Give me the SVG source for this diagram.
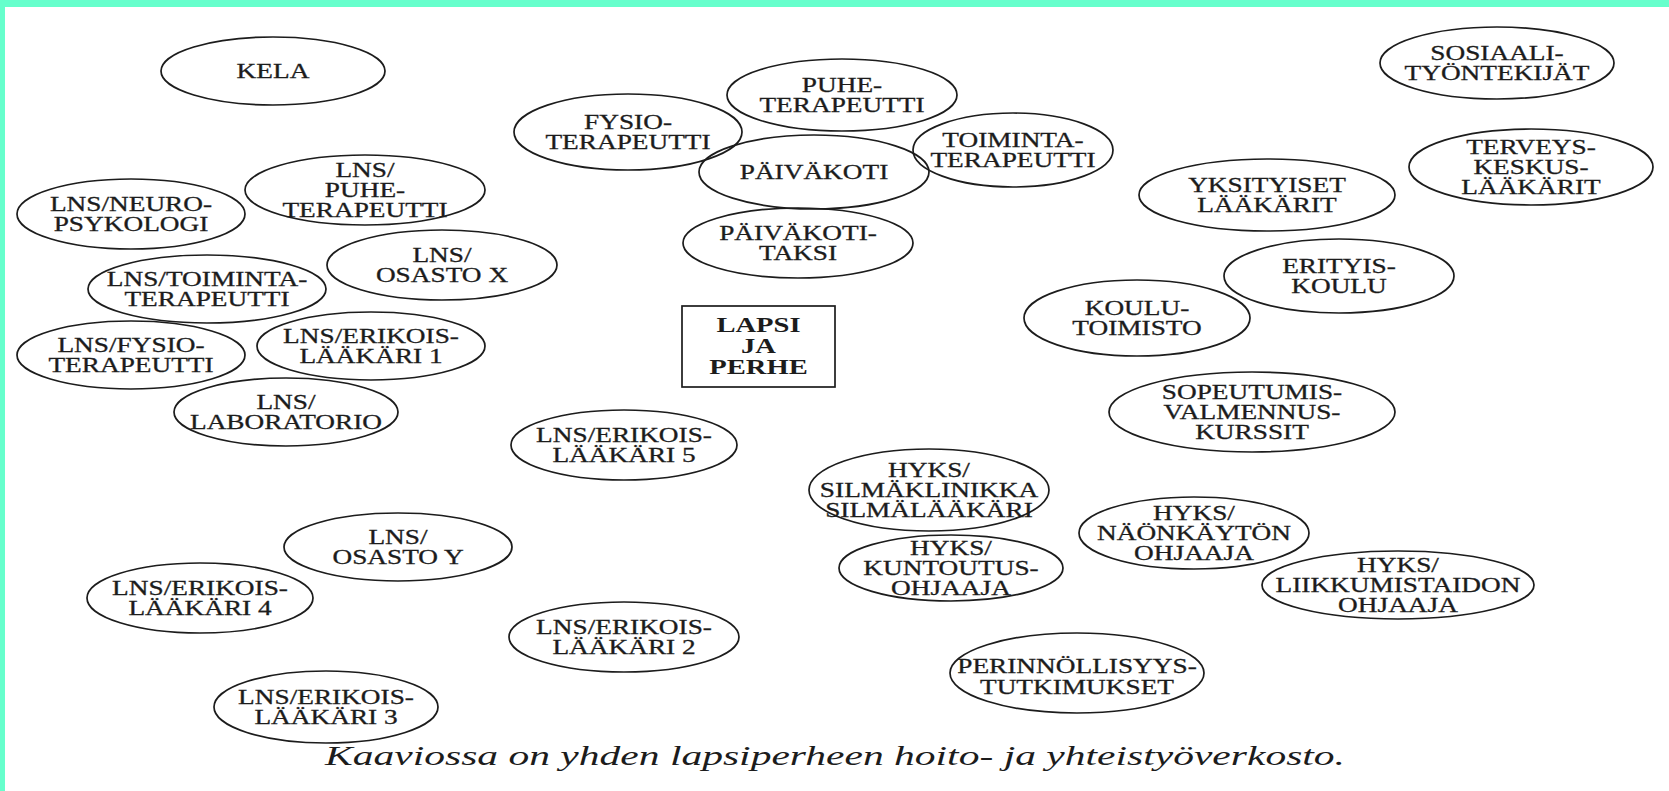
<svg xmlns="http://www.w3.org/2000/svg" width="1669" height="791" viewBox="0 0 1669 791">
<style>
.n ellipse{fill:none;stroke:#1c1c1c;stroke-width:1.7}
.n text{font-family:"Liberation Serif","Times New Roman",serif;font-size:21px;fill:#1c1c1c;stroke:#1c1c1c;stroke-width:0.3;text-anchor:middle}
.box rect{fill:none;stroke:#1c1c1c;stroke-width:1.7}
.box text{font-family:"Liberation Serif","Times New Roman",serif;font-size:22px;font-weight:bold;fill:#1c1c1c;text-anchor:middle}
.cap{font-family:"Liberation Serif","Times New Roman",serif;font-size:27px;font-style:italic;fill:#1c1c1c;text-anchor:middle}
</style>
<rect x="0" y="0" width="1669" height="791" fill="#ffffff"/>
<rect x="0" y="0" width="1669" height="7" fill="#66FFCC"/>
<rect x="0" y="0" width="5" height="791" fill="#66FFCC"/>

<g id="kela" class="n" transform="translate(273,71)"><ellipse rx="112" ry="34"/><text transform="scale(1.3,1)"><tspan x="0" y="7">KELA</tspan></text></g>
<g id="fysioterapeutti" class="n" transform="translate(628,132)"><ellipse rx="114" ry="38"/><text transform="scale(1.3,1)"><tspan x="0" y="-3">FYSIO-</tspan><tspan x="0" y="17">TERAPEUTTI</tspan></text></g>
<g id="puheterapeutti" class="n" transform="translate(842,95)"><ellipse rx="115" ry="36"/><text transform="scale(1.3,1)"><tspan x="0" y="-3">PUHE-</tspan><tspan x="0" y="17">TERAPEUTTI</tspan></text></g>
<g id="paivakoti" class="n" transform="translate(814,172)"><ellipse rx="115" ry="37"/><text transform="scale(1.3,1)"><tspan x="0" y="7">PÄIVÄKOTI</tspan></text></g>
<g id="toimintaterapeutti" class="n" transform="translate(1013,150)"><ellipse rx="100" ry="37"/><text transform="scale(1.3,1)"><tspan x="0" y="-3">TOIMINTA-</tspan><tspan x="0" y="17">TERAPEUTTI</tspan></text></g>
<g id="paivakotitaksi" class="n" transform="translate(798,243)"><ellipse rx="115" ry="35"/><text transform="scale(1.3,1)"><tspan x="0" y="-3">PÄIVÄKOTI-</tspan><tspan x="0" y="17">TAKSI</tspan></text></g>
<g id="sosiaalityontekijat" class="n" transform="translate(1497,63)"><ellipse rx="117" ry="36"/><text transform="scale(1.3,1)"><tspan x="0" y="-3">SOSIAALI-</tspan><tspan x="0" y="17">TYÖNTEKIJÄT</tspan></text></g>
<g id="terveyskeskuslaakarit" class="n" transform="translate(1531,167)"><ellipse rx="122" ry="38"/><text transform="scale(1.3,1)"><tspan x="0" y="-13">TERVEYS-</tspan><tspan x="0" y="7">KESKUS-</tspan><tspan x="0" y="27">LÄÄKÄRIT</tspan></text></g>
<g id="yksityisetlaakarit" class="n" transform="translate(1267,195)"><ellipse rx="128" ry="36"/><text transform="scale(1.3,1)"><tspan x="0" y="-3">YKSITYISET</tspan><tspan x="0" y="17">LÄÄKÄRIT</tspan></text></g>
<g id="erityiskoulu" class="n" transform="translate(1339,276)"><ellipse rx="115" ry="37"/><text transform="scale(1.3,1)"><tspan x="0" y="-3">ERITYIS-</tspan><tspan x="0" y="17">KOULU</tspan></text></g>
<g id="koulutoimisto" class="n" transform="translate(1137,318)"><ellipse rx="113" ry="38"/><text transform="scale(1.3,1)"><tspan x="0" y="-3">KOULU-</tspan><tspan x="0" y="17">TOIMISTO</tspan></text></g>
<g id="sopeutumisvalmennuskurssit" class="n" transform="translate(1252,412)"><ellipse rx="143" ry="40"/><text transform="scale(1.3,1)"><tspan x="0" y="-13">SOPEUTUMIS-</tspan><tspan x="0" y="7">VALMENNUS-</tspan><tspan x="0" y="27">KURSSIT</tspan></text></g>

<g id="lapsijaperhe" class="box"><rect x="682" y="306" width="153" height="81"/><text transform="translate(758.5,0) scale(1.3,1)"><tspan x="0" y="332">LAPSI</tspan><tspan x="0" y="353">JA</tspan><tspan x="0" y="374">PERHE</tspan></text></g>

<g id="lns-puheterapeutti" class="n" transform="translate(365,190)"><ellipse rx="120" ry="35"/><text transform="scale(1.3,1)"><tspan x="0" y="-13">LNS/</tspan><tspan x="0" y="7">PUHE-</tspan><tspan x="0" y="27">TERAPEUTTI</tspan></text></g>
<g id="lns-neuropsykologi" class="n" transform="translate(131,214)"><ellipse rx="114" ry="35"/><text transform="scale(1.3,1)"><tspan x="0" y="-3">LNS/NEURO-</tspan><tspan x="0" y="17">PSYKOLOGI</tspan></text></g>
<g id="lns-osastox" class="n" transform="translate(442,265)"><ellipse rx="115" ry="35"/><text transform="scale(1.3,1)"><tspan x="0" y="-3">LNS/</tspan><tspan x="0" y="17">OSASTO X</tspan></text></g>
<g id="lns-toimintaterapeutti" class="n" transform="translate(207,289)"><ellipse rx="119" ry="34"/><text transform="scale(1.3,1)"><tspan x="0" y="-3">LNS/TOIMINTA-</tspan><tspan x="0" y="17">TERAPEUTTI</tspan></text></g>
<g id="lns-fysioterapeutti" class="n" transform="translate(131,355)"><ellipse rx="114" ry="34"/><text transform="scale(1.3,1)"><tspan x="0" y="-3">LNS/FYSIO-</tspan><tspan x="0" y="17">TERAPEUTTI</tspan></text></g>
<g id="lns-erikoislaakari1" class="n" transform="translate(371,346)"><ellipse rx="114" ry="34"/><text transform="scale(1.3,1)"><tspan x="0" y="-3">LNS/ERIKOIS-</tspan><tspan x="0" y="17">LÄÄKÄRI 1</tspan></text></g>
<g id="lns-laboratorio" class="n" transform="translate(286,412)"><ellipse rx="112" ry="34"/><text transform="scale(1.3,1)"><tspan x="0" y="-3">LNS/</tspan><tspan x="0" y="17">LABORATORIO</tspan></text></g>
<g id="lns-erikoislaakari5" class="n" transform="translate(624,445)"><ellipse rx="113" ry="35"/><text transform="scale(1.3,1)"><tspan x="0" y="-3">LNS/ERIKOIS-</tspan><tspan x="0" y="17">LÄÄKÄRI 5</tspan></text></g>
<g id="lns-osastoy" class="n" transform="translate(398,547)"><ellipse rx="114" ry="34"/><text transform="scale(1.3,1)"><tspan x="0" y="-3">LNS/</tspan><tspan x="0" y="17">OSASTO Y</tspan></text></g>
<g id="lns-erikoislaakari4" class="n" transform="translate(200,598)"><ellipse rx="113" ry="35"/><text transform="scale(1.3,1)"><tspan x="0" y="-3">LNS/ERIKOIS-</tspan><tspan x="0" y="17">LÄÄKÄRI 4</tspan></text></g>
<g id="lns-erikoislaakari3" class="n" transform="translate(326,707)"><ellipse rx="112" ry="36"/><text transform="scale(1.3,1)"><tspan x="0" y="-3">LNS/ERIKOIS-</tspan><tspan x="0" y="17">LÄÄKÄRI 3</tspan></text></g>
<g id="lns-erikoislaakari2" class="n" transform="translate(624,637)"><ellipse rx="115" ry="35"/><text transform="scale(1.3,1)"><tspan x="0" y="-3">LNS/ERIKOIS-</tspan><tspan x="0" y="17">LÄÄKÄRI 2</tspan></text></g>

<g id="hyks-silmaklinikka" class="n" transform="translate(929,490)"><ellipse rx="120" ry="41"/><text transform="scale(1.3,1)"><tspan x="0" y="-13">HYKS/</tspan><tspan x="0" y="7">SILMÄKLINIKKA</tspan><tspan x="0" y="27">SILMÄLÄÄKÄRI</tspan></text></g>
<g id="hyks-kuntoutusohjaaja" class="n" transform="translate(951,568)"><ellipse rx="112" ry="33"/><text transform="scale(1.3,1)"><tspan x="0" y="-13">HYKS/</tspan><tspan x="0" y="7">KUNTOUTUS-</tspan><tspan x="0" y="27">OHJAAJA</tspan></text></g>
<g id="hyks-naonkaytonohjaaja" class="n" transform="translate(1194,533)"><ellipse rx="115" ry="36"/><text transform="scale(1.3,1)"><tspan x="0" y="-13">HYKS/</tspan><tspan x="0" y="7">NÄÖNKÄYTÖN</tspan><tspan x="0" y="27">OHJAAJA</tspan></text></g>
<g id="hyks-liikkumistaidonohjaaja" class="n" transform="translate(1398,585)"><ellipse rx="136" ry="34"/><text transform="scale(1.3,1)"><tspan x="0" y="-13">HYKS/</tspan><tspan x="0" y="7">LIIKKUMISTAIDON</tspan><tspan x="0" y="27">OHJAAJA</tspan></text></g>
<g id="perinnollisyystutkimukset" class="n" transform="translate(1077,673)"><ellipse rx="127" ry="40"/><text transform="scale(1.3,1)"><tspan x="0" y="0">PERINNÖLLISYYS-</tspan><tspan x="0" y="21">TUTKIMUKSET</tspan></text></g>

<text id="caption" class="cap" x="835" y="765" textLength="1020" lengthAdjust="spacingAndGlyphs">Kaaviossa on yhden lapsiperheen hoito- ja yhteistyöverkosto.</text>
</svg>
